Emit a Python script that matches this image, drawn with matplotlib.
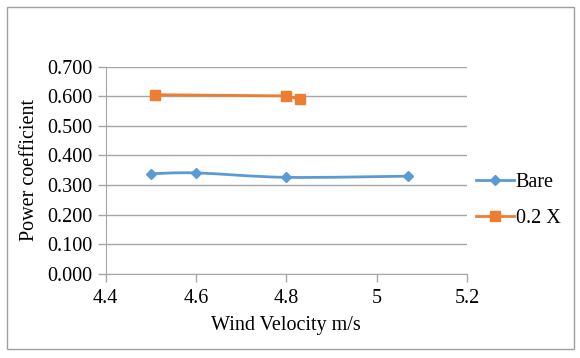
import numpy as np
from matplotlib import pyplot as plt
from matplotlib.path import Path
from matplotlib.patches import PathPatch, Rectangle
from matplotlib.lines import Line2D

plt.rcParams['font.family'] = ['Liberation Serif', 'DejaVu Serif']

# data
bare_x = [4.5, 4.6, 4.8, 5.07]
bare_y = [0.338, 0.341, 0.326, 0.330]
x02_x = [4.51, 4.80, 4.83]
x02_y = [0.605, 0.601, 0.590]

BLUE = '#5B9BD5'
ORANGE = '#ED7D31'
GRID = '#A6A6A6'
FS = 14.5


def smooth_path(xs, ys):
    # Excel-like smoothed line: cubic bezier through the points
    xs = np.asarray(xs); ys = np.asarray(ys)
    pts = np.column_stack([xs, ys])
    verts = [pts[0]]
    codes = [Path.MOVETO]
    n = len(pts)
    for i in range(n - 1):
        p0 = pts[i - 1] if i > 0 else pts[i]
        p1 = pts[i]
        p2 = pts[i + 1]
        p3 = pts[i + 2] if i + 2 < n else pts[i + 1]
        c1 = p1 + (p2 - p0) / 6
        c2 = p2 - (p3 - p1) / 6
        verts += [c1, c2, p2]
        codes += [Path.CURVE4] * 3
    return Path(verts, codes)


fig = plt.figure(figsize=(5.8, 3.58), dpi=100)
ax = fig.add_axes([0.182, 0.235, 0.623, 0.579])

ax.add_patch(PathPatch(smooth_path(bare_x, bare_y), fill=False, edgecolor=BLUE, lw=2, zorder=3))
ax.plot(bare_x, bare_y, ls='none', marker='D', ms=5, color=BLUE, zorder=4)
ax.plot(x02_x, x02_y, color=ORANGE, lw=2, marker='s', ms=7, zorder=4)

ax.set_xlim(4.4, 5.2)
ax.set_ylim(0, 0.7)
ax.set_xticks([4.4, 4.6, 4.8, 5.0, 5.2])
ax.set_xticklabels(['4.4', '4.6', '4.8', '5', '5.2'])
ax.set_yticks(np.arange(0, 0.71, 0.1))
ax.set_yticklabels(['%.3f' % v for v in np.arange(0, 0.71, 0.1)])
ax.tick_params(labelsize=FS, colors=GRID, labelcolor='black', length=6, width=1)
ax.tick_params(axis='x', pad=5)
ax.grid(axis='y', color=GRID, lw=1)
ax.set_axisbelow(True)
for s in ['top', 'right']:
    ax.spines[s].set_visible(False)
for s in ['left', 'bottom']:
    ax.spines[s].set_color(GRID)

ax.set_xlabel('Wind Velocity m/s', fontsize=FS, labelpad=6)
ax.set_ylabel('Power coefficient', fontsize=FS, labelpad=6)

handles = [Line2D([], [], color=BLUE, lw=2, marker='D', ms=5),
           Line2D([], [], color=ORANGE, lw=2, marker='s', ms=7)]
fig.legend(handles, ['Bare', '0.2 X'], loc='center left', bbox_to_anchor=(0.82, 0.44),
           frameon=False, fontsize=FS, handlelength=1.9, handletextpad=0.1, labelspacing=0.85,
           borderpad=0, borderaxespad=0)

fig.add_artist(Rectangle((0.012, 0.025), 0.978, 0.955, transform=fig.transFigure,
                         fill=False, edgecolor='#A0A0A0', lw=1))

fig.savefig('out.png', dpi=100)
